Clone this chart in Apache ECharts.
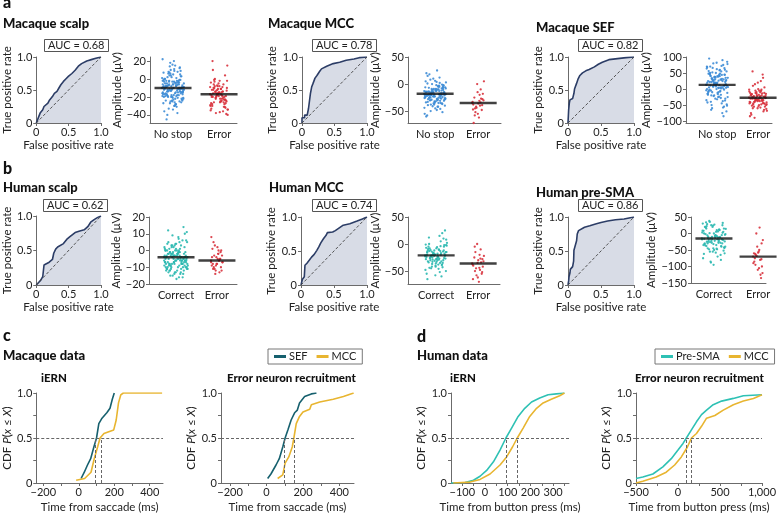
<!DOCTYPE html>
<html>
<head>
<meta charset="utf-8">
<script src="https://cdn.jsdelivr.net/npm/echarts@6/dist/echarts.min.js"></script>
<style>html,body{margin:0;padding:0;background:#fff}#main{width:783px;height:515px}</style>
</head>
<body>
<div id="main"></div>
<script>
// ---------- data ----------
var rocTitles = ['Macaque scalp', 'Macaque MCC', 'Macaque SEF', 'Human scalp', 'Human MCC', 'Human pre-SMA'];
var aucValues = [0.68, 0.78, 0.82, 0.62, 0.74, 0.86];

var rocMacScalp = [[0,0],[0.02,0.05],[0.04,0.1],[0.06,0.15],[0.1,0.2],[0.12,0.25],[0.15,0.28],[0.18,0.3],[0.2,0.34],[0.25,0.4],[0.28,0.45],[0.32,0.48],[0.35,0.53],[0.38,0.58],[0.42,0.63],[0.46,0.67],[0.5,0.71],[0.55,0.75],[0.6,0.8],[0.65,0.86],[0.7,0.9],[0.78,0.94],[0.85,0.96],[0.92,0.98],[1,1]];
var rocMacMCC = [[0,0],[0,0.08],[0.04,0.08],[0.04,0.12],[0.08,0.12],[0.1,0.22],[0.12,0.25],[0.13,0.45],[0.15,0.55],[0.17,0.6],[0.2,0.68],[0.23,0.72],[0.27,0.78],[0.3,0.82],[0.38,0.86],[0.48,0.9],[0.58,0.92],[0.68,0.95],[0.8,0.97],[0.88,0.99],[1,1]];
var rocMacSEF = [[0,0],[0.01,0.2],[0.02,0.3],[0.03,0.35],[0.07,0.37],[0.09,0.45],[0.1,0.52],[0.13,0.6],[0.15,0.66],[0.18,0.72],[0.22,0.76],[0.27,0.79],[0.32,0.81],[0.4,0.85],[0.46,0.89],[0.52,0.92],[0.62,0.96],[0.75,0.975],[0.88,0.99],[1,1]];
var rocHumScalp = [[0,0],[0.04,0.04],[0.07,0.07],[0.1,0.12],[0.12,0.29],[0.15,0.31],[0.2,0.33],[0.25,0.37],[0.27,0.46],[0.3,0.52],[0.33,0.55],[0.42,0.6],[0.47,0.66],[0.52,0.7],[0.6,0.76],[0.66,0.78],[0.74,0.8],[0.8,0.85],[0.84,0.91],[0.9,0.95],[0.95,0.98],[1,1]];
var rocHumMCC = [[0,0],[0.01,0.04],[0.02,0.08],[0.05,0.12],[0.06,0.29],[0.09,0.32],[0.13,0.37],[0.16,0.41],[0.2,0.45],[0.24,0.51],[0.27,0.56],[0.3,0.62],[0.34,0.68],[0.38,0.73],[0.4,0.77],[0.48,0.78],[0.52,0.8],[0.58,0.84],[0.64,0.88],[0.74,0.9],[0.85,0.94],[0.93,0.97],[1,1]];
var rocHumPreSMA = [[0,0],[0.01,0.06],[0.015,0.12],[0.03,0.18],[0.035,0.23],[0.07,0.27],[0.085,0.35],[0.09,0.51],[0.12,0.53],[0.13,0.65],[0.14,0.75],[0.16,0.8],[0.18,0.82],[0.25,0.85],[0.33,0.87],[0.43,0.9],[0.5,0.92],[0.6,0.94],[0.72,0.96],[0.85,0.97],[1,1]];

var stripCats = [['No stop','Error'],['No stop','Error'],['No stop','Error'],['Correct','Error'],['Correct','Error'],['Correct','Error']];
var stripTickValues = [[-40,-20,0,20],[-50,0,50],[-100,-50,0,50,100],[-20,-10,0,10,20],[-50,0,50],[-150,-100,-50,0,50]];
var stripMeans = [[-10,-17],[-18,-35],[13,-27],[-4,-6],[-21,-36],[-15,-70]];

var macScalpNoStop = [-10,-5,-18,3,-25,-12,8,-2,-15,-30,-8,12,-20,-6,1,-14,-22,5,-11,-3,-27,-9,15,-17,-1,-24,7,-13,-33,-7,20,-19,-4,10,-16,-28,2,-10,-21,-36,-6,4,-12,-26,-2,13,-18,-9,-31,6,-15,-23,0,-11,18,-5,-29,-14,9,-20,-8,-38,-3,-17,11,-24,-1,-13,22,-7,-19,3,-34,-10,-4,14,-22,-16,-45,5,-12,-27,-2,8,-9,-18,25,-6,-25,1,-15,-40,-11,16,-3,-21,7,-14,-30,-8,
  -12,-8,-15,-4,-20,-10,-6,-17,-2,-13,-9,-22,-5,-14,-11,-1,-18,-7,-24,-3,-16,-10,4,-19,-8,-12,-26,-6,0,-15,-11,-21,-4,-9,-14,2,-17,-7,-13,-23,-10,-5,-18,6,-12,-28,-8,-16,-3,-20,-11,-6,-14,9,-9,-25,-13,-2,-19,-7];
var macScalpError = [-17,-25,-10,-32,-5,-20,-14,-38,-2,-22,-12,-28,-8,-35,-18,0,-24,-15,-30,-6,-19,-40,-11,-26,4,-16,-33,-9,-21,-13,-37,10,-23,-7,-29,-15,-3,-27,-19,-12,-36,-20,15,-25,-10,-31,-17,-4,-22,-14,-39,-8,20,-26,-18,-34,-11,-1,-23,-16,
  -18,-14,-22,-10,-26,-16,-20,-12,-30,-24,-8,-19,-15,-28,-21,-13,-34,-17,-6,-23,-11,-27,-19,-15,-25,-2,-20,-31,-16,-9];
var macMCCNoStop = [-18,-10,-25,-5,-32,-15,2,-20,-40,-12,-28,-8,10,-22,-35,-17,-3,-45,-14,-26,0,-19,-30,-7,-52,-23,5,-13,-38,-21,-9,15,-27,-16,-44,-4,-24,-11,-33,20,-18,-29,-6,-48,-20,-1,-36,-14,-25,8,-31,-10,-58,-22,-15,3,-42,-26,-8,-19,-34,12,-17,-28,-2,-39,-12,-23,-55,-5,-30,-16,6,-21,-46,-11,-27,25,-20,-37,-9,-24,-3,-50,-15,-32,1,-18,-41,-13,-29,18,-7,-35,-60,-22,-14,-26,4,-19,
  -20,-15,-25,-10,-30,-18,-12,-22,-35,-16,-8,-27,-14,-24,-38,-19,-5,-21,-29,-13,-33,-17,-11,-26,-42,-20,-2,-23,-15,-31,-9,-18,-28,-14,-36,-22,-6,-19,-25,-16];
var macMCCError = [-35,-20,-45,-28,-55,-38,-10,-42,-30,-62,-25,-48,0,-33,-40,-52,-18,-36,-72,-27,-44,5,-31,-58,-39,-15,-47,-34];
var macSEFNoStop = [13,40,-20,60,0,25,-45,80,10,-10,50,30,-30,70,5,-60,35,20,-5,90,15,-25,45,-40,65,8,-15,55,28,-70,38,-2,75,18,-35,48,-50,22,62,-8,32,-22,85,3,42,-55,12,68,-28,52,26,-12,95,-38,36,6,58,-65,44,16,-18,72,24,-48,4,46,-85,30,64,-6,34,14,-32,56,-75,20,78,-24,40,10,50,-42,2,66,28,-16,48,-58,38,-4,60,22,-36,82,-10,44,8,-52,26,70,
  10,20,0,30,-10,15,40,5,25,-20,35,12,-5,45,18,-15,28,8,55,-25,22,2,38,14,-8,32,-30,16,48,6,26,-12,42,11,-2,36,20,-18,30,4];
var macSEFError = [-27,-10,-45,5,-60,-20,-35,15,-50,-5,-30,-70,-15,-40,25,-55,-25,0,-80,-32,-12,-48,-38,10,-65,-22,-42,-2,-90,-28,-18,-52,35,-33,-8,-58,-24,-46,20,-75,-14,-36,-62,-30,55,-44,-20,-85,-6,-40,-26,-54,-16,45,-34,-68,-22,-48,-12,-38,
  -30,-20,-40,-15,-50,-25,-35,-10,-45,-28,-22,-55,-32,-18,-38,-5,-42,-26,-60,-24,-34,-12,-48,-30,-20,-36,-16,-44,-28,-2];
var humScalpCorrect = [-4,0,-8,2,-6,-12,3,-2,-10,-5,5,-14,-7,1,-3,-9,-1,4,-11,-6,-15,-4,8,-8,-2,-13,0,-5,-10,6,-3,-7,-16,2,-9,-1,-12,10,-6,-4,-8,3,-11,-2,-5,14,-14,-7,1,-3,-10,-17,4,-6,-1,-9,7,-12,-4,0,-8,-13,2,-5,-2,12,-10,-7,-3,5,-15,-6,1,-11,-4,9,-8,-1,-9,-12,3,-5,-14,-2,-7,0,-10,6,-3,-6,-16,-1,-9,4,-4,-11,-8,11,-2,-13,
  -5,-3,-7,-1,-9,-4,-6,0,-8,-2,-11,-5,1,-7,-3,-10,-4,3,-6,-12,-2,-8,-5,2,-9,-1,-6,-13,-3,-7,-4,5,-10,-2,-5,-8,0,-6,-11,-3];
var humScalpError = [-6,-2,-10,0,-8,-4,-13,3,-7,-5,-11,-1,-9,8,-6,-3,-12,-8,1,-5,-14,-7,-2,5,-10,-4,-9,-6,-11,-3,2,-8,-5,-12,-7,0];
var humMCCCorrect = [-21,-10,-30,-5,-40,-15,5,-25,-50,-18,0,-35,-12,-28,15,-45,-22,-8,-32,-60,-16,-3,-38,-26,10,-20,-55,-13,-42,-27,-6,-34,20,-19,-48,-11,-24,-2,-36,-65,-17,-29,8,-23,-44,-14,-31,-7,-52,-21,25,-33,-9,-39,-18,2,-46,-26,-12,-58,-20,-4,-37,-15,-30,12,-43,-22,-1,-27,
  -22,-18,-28,-12,-32,-20,-15,-25,-8,-30,-19,-24,-35,-14,-21,-27,-5,-38,-17,-23,-29,-11,-26,-42,-16,-20,-33,-2,-24,-13];
var humMCCError = [-36,-20,-50,-28,-62,-40,-10,-45,-32,-70,-25,-55,0,-38,-48,-15,-42,-30,-75,-34,-58,-22,-44,-5,-52,-35,-65,-27];
var humPreSMACorrect = [-15,10,-30,25,-45,0,-20,35,-60,-5,15,-38,-10,30,-70,-25,5,-50,20,-12,-85,-2,-35,28,-18,-55,8,-28,38,-42,-8,18,-65,-22,3,-48,-14,32,-95,-32,12,-26,-4,-58,22,-40,-16,-75,6,-20,-52,27,-36,-11,-88,14,-46,-6,-30,24,-62,-24,1,-44,-13,34,-80,-28,9,-18,
  -10,-20,0,-30,10,-15,-40,5,-25,-5,20,-35,-12,-48,15,-22,-2,-28,25,-18,-8,-45,2,-32,-16,12,-55,-24,-6,-38];
var humPreSMAError = [-70,-50,-95,-30,-110,-60,-80,0,-120,-55,-75,-135,-40,-90,18,-65,-100,-58,-85,-125,-68,-20,-105,-62,-78];

var cdfMacIernSEF = [[13,0.05],[31,0.12],[49,0.2],[67,0.27],[85,0.4],[100,0.5],[113,0.66],[131,0.72],[158,0.78],[176,0.83],[189,0.93],[200,1]];
var cdfMacIernMCC = [[-15,0.03],[33,0.05],[69,0.12],[87,0.27],[106,0.4],[120,0.5],[142,0.55],[169,0.57],[197,0.59],[211,0.7],[224,0.89],[237,0.98],[251,1],[470,1]];
var cdfMacEnrSEF = [[6,0.05],[24,0.1],[52,0.2],[70,0.27],[89,0.4],[102,0.5],[117,0.59],[135,0.7],[154,0.78],[169,0.81],[181,0.89],[209,0.96],[246,0.99],[274,1]];
var cdfMacEnrMCC = [[61,0.05],[89,0.09],[102,0.22],[122,0.29],[141,0.4],[150,0.5],[163,0.66],[181,0.74],[200,0.79],[237,0.82],[246,0.87],[292,0.9],[366,0.93],[422,0.96],[478,1]];
var cdfHumIernPre = [[-150,0],[-88,0.005],[-51,0.03],[-22,0.075],[7,0.14],[37,0.235],[66,0.365],[92,0.5],[117,0.61],[146,0.74],[175,0.83],[205,0.9],[241,0.944],[278,0.98],[314,0.99],[350,1]];
var cdfHumIernMCC = [[-140,0],[-66,0.01],[-22,0.04],[22,0.1],[66,0.2],[95,0.29],[121,0.4],[142,0.5],[168,0.61],[197,0.74],[227,0.83],[256,0.89],[292,0.93],[329,0.97],[350,1]];
var cdfHumEnrPre = [[-500,0.05],[-419,0.067],[-299,0.1],[-180,0.18],[-80,0.27],[0,0.366],[60,0.44],[100,0.5],[160,0.59],[220,0.68],[280,0.76],[340,0.81],[419,0.87],[519,0.91],[659,0.94],[778,0.97],[1000,0.98]];
var cdfHumEnrMCC = [[-500,0],[-419,0.02],[-260,0.067],[-140,0.12],[-40,0.2],[40,0.29],[112,0.4],[160,0.5],[220,0.55],[280,0.63],[340,0.72],[439,0.75],[539,0.81],[659,0.87],[778,0.91],[898,0.94],[1000,0.98]];
var cdfMedians = [[91,127],[98,150],[92,140],[100,160]];
var cdfTitles = ['iERN','Error neuron recruitment','iERN','Error neuron recruitment'];
var cdfXNames = ['Time from saccade (ms)','Time from saccade (ms)','Time from button press (ms)','Time from button press (ms)'];
var cdfTicks = [[-200,-100,0,100,200,300,400],[-200,-100,0,100,200,300,400],[-100,-50,0,50,100,150,200,250,300,350],[-500,-250,0,250,500,750,1000]];
var cdfLabels = [[-200,0,200,400],[-200,0,200,400],[-100,0,100,200,300],[-500,0,500,1000]];

// ---------- layout ----------
var FONT = 'Lato, "Noto Sans", sans-serif';
var TXT = '#222';
var AX = '#6b6b6b';
var NAVY = '#2c3d66', ROC_FILL = '#d8dce6';
var BLUE = '#3d8cd6', TEAL = '#2ab8b0', RED = '#d8313c';
var SEF_C = '#16606e', MCC_C = '#e8b530', PRE_C = '#2ec1b4';

var rocCurves = [rocMacScalp, rocMacMCC, rocMacSEF, rocHumScalp, rocHumMCC, rocHumPreSMA];
var rocBoxes = [[34,57,101,123],[302,57,367,123],[568,57,634,123],[33,216,101,285],[301,217,367,285],[568,217,634,285]];
var rocYGap = [20,22,17,18,21,16];
var aucPos = [[44,39],[312,39],[578,39],[43,199],[312,199],[578,199]];
var titlePos = [[3,17],[268,17],[536,21],[3,181],[269,181],[536,186]];

var stripValues = [[macScalpNoStop, macScalpError],[macMCCNoStop, macMCCError],[macSEFNoStop, macSEFError],
                   [humScalpCorrect, humScalpError],[humMCCCorrect, humMCCError],[humPreSMACorrect, humPreSMAError]];
var stripBoxes = [[150,57,237,123],[408,57,501,123],[686,57,772,123],[149,217,237,284],[408,217,500,284],[691,217,766,283]];
var stripY = [[-49,24.5],[-72,50],[-106,100],[-20,20],[-74,50],[-150,50]];
var stripX = [[-0.5,1.39],[-0.63,1.53],[-0.76,1.34],[-0.66,1.49],[-0.67,1.52],[-0.52,1.18]];
var stripYGap = [20,16,21,20,18,26];
var stripSpread = [[11,9],[11,6],[11,9],[12,6],[11,6],[12,5]];
var stripColors = [BLUE, BLUE, BLUE, TEAL, TEAL, TEAL];

var cdfBoxes = [[33,393,163,483],[221,393,354,483],[451,393,569,483],[636,393,762,483]];
var cdfX = [[-240,475],[-250,480],[-150,370],[-500,1000]];
var cdfYGap = [16,12,21,21];
var cdfTitlePos = [[41,372],[227,372],[450,372],[635,372]];
var cdfCurves = [
  [[cdfMacIernSEF,'SEF',SEF_C],[cdfMacIernMCC,'MCC',MCC_C]],
  [[cdfMacEnrSEF,'SEF',SEF_C],[cdfMacEnrMCC,'MCC',MCC_C]],
  [[cdfHumIernPre,'Pre-SMA',PRE_C],[cdfHumIernMCC,'MCC',MCC_C]],
  [[cdfHumEnrPre,'Pre-SMA',PRE_C],[cdfHumEnrMCC,'MCC',MCC_C]]
];

var grids = [], xAxes = [], yAxes = [], series = [], titles = [];

function minus(v) { return String(v).replace('-', '\u2212'); }
function axisBase() {
  return {
    type: 'value', nameLocation: 'middle',
    axisLine: { show: true, onZero: false, lineStyle: { color: AX, width: 1 } },
    axisTick: { show: true, length: 3, lineStyle: { color: AX } },
    axisLabel: { color: TXT, fontSize: 11, fontFamily: FONT, margin: 4 },
    splitLine: { show: false },
    nameTextStyle: { color: TXT, fontSize: 11.5, fontFamily: FONT }
  };
}
function addGrid(b) {
  grids.push({ left: b[0], top: b[1], width: b[2] - b[0], height: b[3] - b[1] });
  return grids.length - 1;
}
function addTitle(text, pos, size, bold) {
  titles.push({ text: text, left: pos[0], top: pos[1], padding: 0,
    textStyle: { fontSize: size, fontWeight: bold ? 900 : 'normal', color: '#111', fontFamily: FONT } });
}

function addRoc(i) {
  var g = addGrid(rocBoxes[i]);
  var fmt = function (v) { return v === 0 ? '0' : v.toFixed(1); };
  var x = axisBase(), y = axisBase();
  Object.assign(x, { gridIndex: g, min: 0, max: 1, interval: 0.5, name: 'False positive rate', nameGap: 16 });
  x.axisLabel.formatter = fmt;
  Object.assign(y, { gridIndex: g, min: 0, max: 1, interval: 0.5, name: 'True positive rate', nameGap: rocYGap[i] });
  y.axisLabel.formatter = fmt;
  xAxes.push(x); yAxes.push(y);
  series.push({ type: 'line', xAxisIndex: g, yAxisIndex: g, data: rocCurves[i], symbol: 'none', silent: true,
    lineStyle: { color: NAVY, width: 1.6 }, areaStyle: { color: ROC_FILL, opacity: 1 }, z: 2 });
  series.push({ type: 'line', xAxisIndex: g, yAxisIndex: g, data: [[0,0],[1,1]], symbol: 'none', silent: true,
    lineStyle: { color: '#444', width: 0.9, type: [3, 2] }, z: 3 });
  addTitle(rocTitles[i], titlePos[i], 13, true);
  titles.push({ text: 'AUC = ' + aucValues[i].toFixed(2), left: aucPos[i][0], top: aucPos[i][1],
    padding: [1, 4], borderColor: '#555', borderWidth: 1,
    textStyle: { fontSize: 11, fontWeight: 'normal', color: TXT, fontFamily: FONT } });
}

function addStrip(i) {
  var b = stripBoxes[i], g = addGrid(b), r = stripX[i], cats = stripCats[i];
  var x = axisBase(), y = axisBase();
  Object.assign(x, { gridIndex: g, min: r[0], max: r[1] });
  x.axisTick = { show: false };
  x.axisLabel.customValues = [0, 1];
  x.axisLabel.margin = 6;
  x.axisLabel.formatter = function (v) { return cats[Math.round(v)]; };
  Object.assign(y, { gridIndex: g, min: stripY[i][0], max: stripY[i][1], name: 'Amplitude (\u03bcV)', nameGap: stripYGap[i] });
  y.axisTick.customValues = stripTickValues[i];
  y.axisLabel.customValues = stripTickValues[i];
  y.axisLabel.formatter = minus;
  xAxes.push(x); yAxes.push(y);
  var pxPerUnit = (b[2] - b[0]) / (r[1] - r[0]);
  [0, 1].forEach(function (c) {
    var vals = stripValues[i][c];
    var spread = stripSpread[i][c] / pxPerUnit;
    series.push({ type: 'scatter', xAxisIndex: g, yAxisIndex: g, symbolSize: 2.3, silent: true,
      itemStyle: { color: c === 0 ? stripColors[i] : RED, opacity: 0.9 },
      data: vals.map(function (v, j) { return [c + (((j * 0.618034) % 1) - 0.5) * 2 * spread, v]; }) });
  });
  series.push({ type: 'scatter', xAxisIndex: g, yAxisIndex: g, symbol: 'rect', symbolSize: [37, 2.4], silent: true, z: 5,
    itemStyle: { color: '#111' }, data: [[0, stripMeans[i][0]], [1, stripMeans[i][1]]] });
}

function addCdf(i) {
  var g = addGrid(cdfBoxes[i]);
  var x = axisBase(), y = axisBase();
  Object.assign(x, { gridIndex: g, min: cdfX[i][0], max: cdfX[i][1], name: cdfXNames[i], nameGap: 18 });
  x.axisTick.customValues = cdfTicks[i];
  x.axisLabel.customValues = cdfLabels[i];
  x.axisLabel.formatter = function (v) { return v === 1000 ? '1,000' : minus(v); };
  Object.assign(y, { gridIndex: g, min: 0, max: 1, interval: 0.25, nameGap: cdfYGap[i],
    name: '{a|CDF }{b|P}{a|(}{b|x}{a| \u2264 }{b|X}{a|)}' });
  y.nameTextStyle.rich = {
    a: { fontSize: 11.5, color: TXT, fontFamily: FONT },
    b: { fontSize: 11.5, color: TXT, fontFamily: FONT, fontStyle: 'italic' }
  };
  y.axisLabel.formatter = function (v) { return v === 0 ? '0' : v === 0.5 ? '0.5' : v === 1 ? '1.0' : ''; };
  xAxes.push(x); yAxes.push(y);
  cdfCurves[i].forEach(function (c, k) {
    var s = { type: 'line', name: c[1], xAxisIndex: g, yAxisIndex: g, data: c[0], symbol: 'none', silent: true,
      lineStyle: { color: c[2], width: 1.6 }, itemStyle: { color: c[2] }, z: 3 };
    if (k === 0) {
      var m = cdfMedians[i];
      s.markLine = { silent: true, symbol: 'none', label: { show: false },
        lineStyle: { color: '#666', width: 1, type: [3, 2] },
        data: [{ yAxis: 0.5 },
               [{ coord: [m[0], 0] }, { coord: [m[0], 0.5] }],
               [{ coord: [m[1], 0] }, { coord: [m[1], 0.5] }]] };
    }
    series.push(s);
  });
  addTitle(cdfTitles[i], cdfTitlePos[i], 11.5, true);
}

for (var i = 0; i < 6; i++) { addRoc(i); addStrip(i); }
for (var j = 0; j < 4; j++) addCdf(j);

addTitle('a', [3, -5], 16, true);
addTitle('b', [3, 161], 16, true);
addTitle('c', [3, 328], 16, true);
addTitle('d', [417, 329], 16, true);
addTitle('Macaque data', [3, 349], 13, true);
addTitle('Human data', [417, 349], 13, true);

var legendBase = {
  top: 349, icon: 'rect', itemWidth: 12, itemHeight: 3, itemGap: 9, padding: [2, 6],
  borderColor: '#777', borderWidth: 1, selectedMode: false,
  textStyle: { color: TXT, fontSize: 11, fontFamily: FONT, padding: [0, 0, 0, -2] }
};

var chart = echarts.init(document.getElementById('main'));
chart.setOption({
  animation: false,
  backgroundColor: '#fff',
  title: titles,
  legend: [
    Object.assign({}, legendBase, { left: 268, data: ['SEF', 'MCC'] }),
    Object.assign({}, legendBase, { left: 655, data: ['Pre-SMA', 'MCC'] })
  ],
  grid: grids,
  xAxis: xAxes,
  yAxis: yAxes,
  series: series
});
</script>
</body>
</html>
